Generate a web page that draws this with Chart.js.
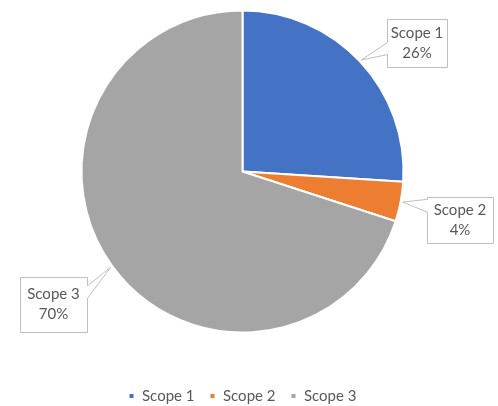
<!DOCTYPE html>
<html>
<head>
<meta charset="utf-8">
<script src="https://cdn.jsdelivr.net/npm/chart.js@4.4.1/dist/chart.umd.min.js"></script>
<style>
  html, body { margin: 0; padding: 0; background: #fff; }
</style>
</head>
<body>
<canvas id="pieChart" width="498" height="406"></canvas>
<script>
// data
const categories = ['Scope 1', 'Scope 2', 'Scope 3'];
const shares = [26, 4, 70];
const sliceColors = ['#4472C4', '#ED7D31', '#A5A5A5'];

// callout boxes (layout only): box rect, which side the pointer leaves from,
// and where the pointer base sits on that side (fraction of box height)
const callouts = [
  { x: 387, y: 19, w: 60, h: 48, side: 'left', b1: 0.48, b2: 0.73 },
  { x: 427, y: 197, w: 66, h: 46, side: 'left', b1: 0.04, b2: 0.32 },
  { x: 20, y: 277, w: 67, h: 55, side: 'right', b1: 0.15, b2: 0.38 }
];

const FONT = 'Lato, "Liberation Sans", sans-serif';
const TEXT_COLOR = '#595959';

const calloutPlugin = {
  id: 'callouts',
  afterDatasetsDraw(chart) {
    const ctx = chart.ctx;
    const meta = chart.getDatasetMeta(0);
    ctx.save();
    meta.data.forEach((arc, i) => {
      const c = callouts[i];
      const p = arc.getProps(['x', 'y', 'startAngle', 'endAngle', 'outerRadius'], true);
      const mid = (p.startAngle + p.endAngle) / 2;
      const tx = p.x + Math.cos(mid) * (p.outerRadius + 2);
      const ty = p.y + Math.sin(mid) * (p.outerRadius + 2);
      const x0 = Math.round(c.x) + 0.5, y0 = Math.round(c.y) + 0.5;
      const x1 = x0 + c.w, y1 = y0 + c.h;
      ctx.beginPath();
      if (c.side === 'left') {
        ctx.moveTo(x0, y0);
        ctx.lineTo(x1, y0);
        ctx.lineTo(x1, y1);
        ctx.lineTo(x0, y1);
        ctx.lineTo(x0, y0 + c.h * c.b2);
        ctx.lineTo(tx, ty);
        ctx.lineTo(x0, y0 + c.h * c.b1);
      } else {
        ctx.moveTo(x0, y0);
        ctx.lineTo(x1, y0);
        ctx.lineTo(x1, y0 + c.h * c.b1);
        ctx.lineTo(tx, ty);
        ctx.lineTo(x1, y0 + c.h * c.b2);
        ctx.lineTo(x1, y1);
        ctx.lineTo(x0, y1);
      }
      ctx.closePath();
      ctx.fillStyle = '#ffffff';
      ctx.fill();
      ctx.strokeStyle = '#BFBFBF';
      ctx.lineWidth = 1;
      ctx.stroke();

      ctx.fillStyle = TEXT_COLOR;
      ctx.font = '15px ' + FONT;
      ctx.textAlign = 'center';
      ctx.textBaseline = 'middle';
      const cx = c.x + c.w / 2, cy = c.y + c.h / 2;
      ctx.fillText(chart.data.labels[i], cx, cy - 10);
      ctx.fillText(chart.data.datasets[0].data[i] + '%', cx, cy + 10);
    });
    ctx.restore();
  }
};

new Chart(document.getElementById('pieChart'), {
  type: 'pie',
  data: {
    labels: categories,
    datasets: [{
      data: shares,
      backgroundColor: sliceColors,
      borderColor: '#ffffff',
      borderWidth: 2,
      radius: 161
    }]
  },
  options: {
    responsive: false,
    animation: false,
    devicePixelRatio: 1,
    layout: { padding: { top: 10, left: 0, right: 13, bottom: -7.5 } },
    plugins: {
      tooltip: { enabled: false },
      legend: {
        position: 'bottom',
        title: { display: true, text: '', font: { size: 12 }, padding: { top: 26, bottom: 0 } },
        labels: {
          boxWidth: 6,
          boxHeight: 6,
          padding: 15,
          color: TEXT_COLOR,
          font: { family: FONT, size: 15 }
        }
      }
    }
  },
  plugins: [calloutPlugin]
});
</script>
</body>
</html>
